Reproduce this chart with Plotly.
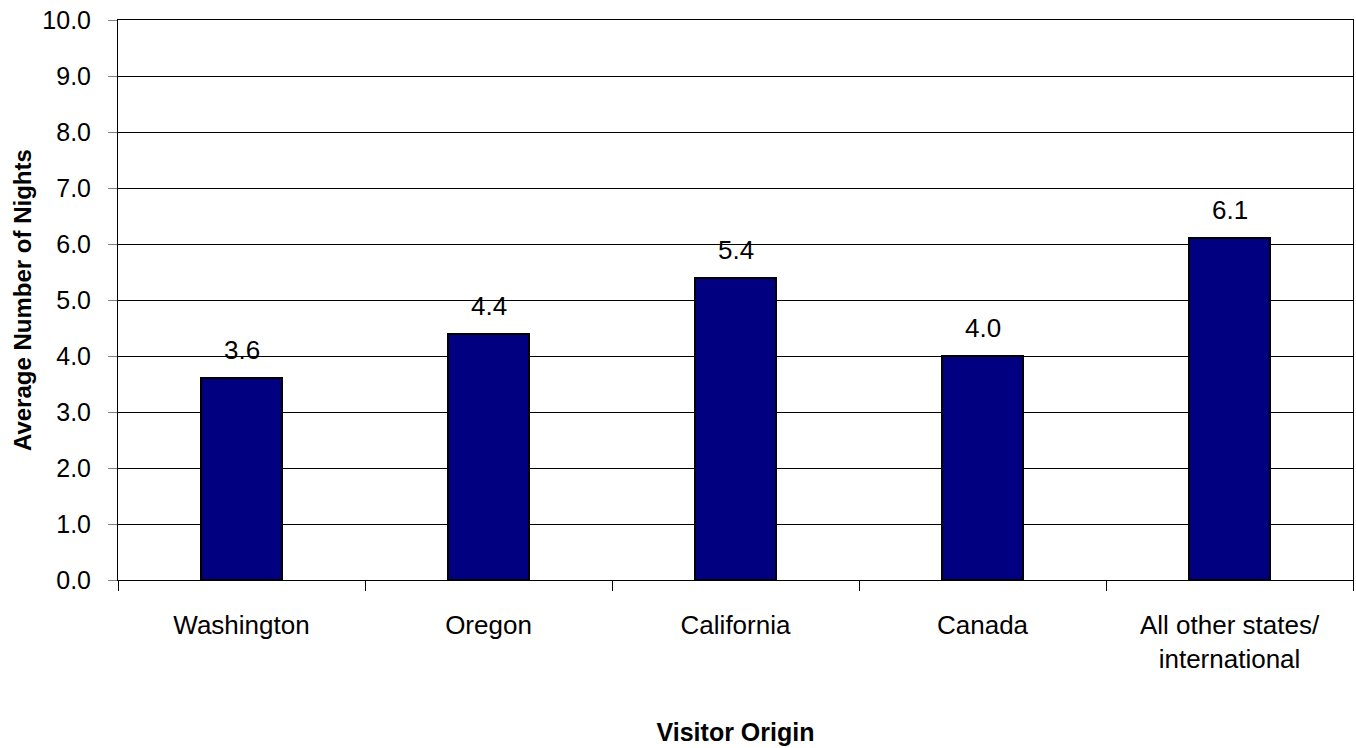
import plotly.graph_objects as go

categories = ["Washington", "Oregon", "California", "Canada", "All other states/<br>international"]
values = [3.6, 4.4, 5.4, 4.0, 6.1]
y_ticks = [0, 1, 2, 3, 4, 5, 6, 7, 8, 9, 10]

narrow = "Liberation Sans Narrow, Arial Narrow, Liberation Sans, Arial, sans-serif"
sans = "Liberation Sans, Arial, sans-serif"

fig = go.Figure()
fig.add_trace(go.Bar(
    x=categories, y=values,
    marker=dict(color="#000080", line=dict(color="black", width=2)),
    width=0.324,
))
for c, v in zip(categories, values):
    fig.add_annotation(x=c, y=v, text=f"{v:.1f}", showarrow=False, yshift=28,
                       font=dict(family=sans, size=26, color="black"))

# y-axis title placed as a rotated annotation
fig.add_annotation(text="<b>Average Number of Nights</b>", xref="paper", yref="paper",
                   x=-0.0777, y=0.5, xanchor="center", yanchor="middle",
                   textangle=-90, showarrow=False,
                   font=dict(family=sans, size=24, color="black"))

fig.update_layout(
    width=1356, height=748,
    margin=dict(l=118, r=3, t=20, b=168, autoexpand=False),
    paper_bgcolor="white", plot_bgcolor="white",
    showlegend=False,
    bargap=0,
)
fig.update_xaxes(
    type="category", automargin=False,
    showline=True, linecolor="black", linewidth=1, mirror=True,
    ticks="outside", tickson="boundaries", ticklen=10, tickcolor="black",
    tickfont=dict(family=narrow, size=26, color="black"),
    ticklabelstandoff=22,
    showgrid=False,
    title=dict(text="<b>Visitor Origin</b>", font=dict(family=sans, size=25, color="black"), standoff=50),
)
fig.update_yaxes(
    range=[0, 10], tickvals=y_ticks, tickformat=".1f", automargin=False,
    showline=True, linecolor="black", linewidth=1, mirror=True,
    ticks="outside", ticklen=9, tickcolor="gray",
    ticklabelstandoff=12, ticklabeloverflow="allow",
    showgrid=True, gridcolor="black", gridwidth=1,
    tickfont=dict(family=narrow, size=25, color="black"),
    zeroline=False,
)
fig.write_html("out.html", config={"displayModeBar": False},
               post_script="document.body.style.margin='0';")
